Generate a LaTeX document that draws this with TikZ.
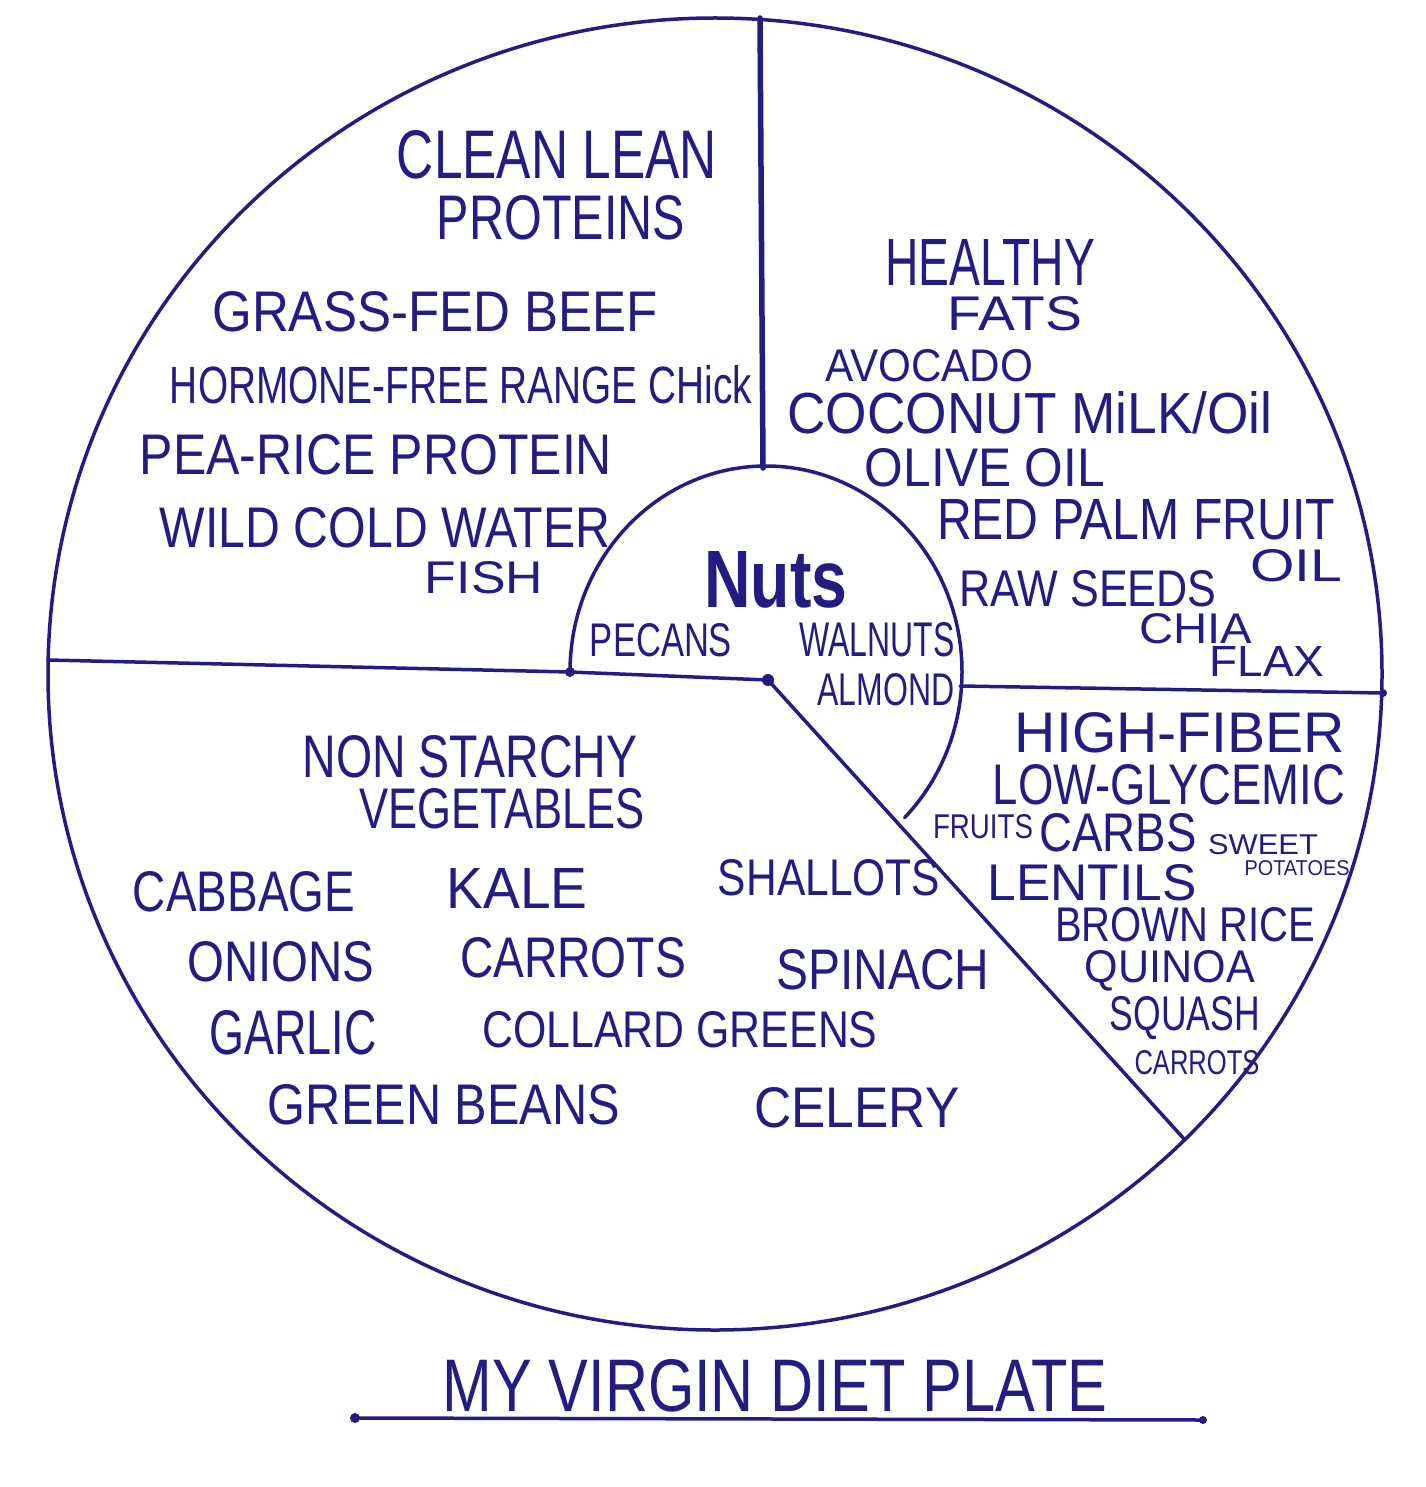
\documentclass[tikz,border=0pt]{standalone}
\usepackage{fontspec}
\setmainfont{Liberation Sans}
\usepackage{graphicx}
\definecolor{plateink}{RGB}{36,28,130}
% hand-lettered word, squeezed to width x height (in px)
\newcommand{\hw}[3]{\resizebox{#1pt}{#2pt}{#3}}
\tikzset{
  ink/.style={inner sep=0pt,text=plateink},
  rim/.style={draw=plateink,line width=3.5pt,line cap=round},
}
\begin{document}
\begin{tikzpicture}[x=1pt,y=-1pt]
\fill[white] (0,0) rectangle (1425,1487);
\useasboundingbox (0,0) rectangle (1425,1487);
% plate and dividers
\coordinate (ctr) at (715,674);
\coordinate (top) at (760,18);
\coordinate (nutstop) at (763,468);
\coordinate (left) at (48,660);
\coordinate (nutsleft) at (570,672);
\coordinate (hub) at (768,680);
\coordinate (nutsright) at (960,686);
\coordinate (right) at (1383,693);
\coordinate (low) at (1185,1140);
\draw[rim] (ctr) ellipse [x radius=667, y radius=656];
\draw[rim,line width=5.5pt] (top) -- (nutstop);
\draw[rim] (left) -- (nutsleft) -- (hub) -- (low);
\draw[rim] (nutsright) -- (right);
\draw[rim] (nutsleft) arc [start angle=180, end angle=405, x radius=196, y radius=206];
\fill[plateink] (nutsleft) circle (5);
\fill[plateink] (hub) circle (6);
\fill[plateink] (right) circle (4);

% proteins
\node[ink] (clean) at (557,155) {\hw{320}{48}{CLEAN LEAN}};
\node[ink] (proteins) at (561,218) {\hw{248}{44}{PROTEINS}};
\node[ink] (beef) at (435,312) {\hw{445}{40}{GRASS-FED BEEF}};
\node[ink] (chick) at (461,385) {\hw{582}{38}{HORMONE-FREE RANGE CHick}};
\node[ink] (pea) at (376,455) {\hw{472}{40}{PEA-RICE PROTEIN}};
\node[ink] (wild) at (385,528) {\hw{450}{40}{WILD COLD WATER}};
\node[ink] (fish) at (484,578) {\hw{118}{32}{FISH}};

% fats
\node[ink] (healthy) at (990,262) {\hw{210}{46}{HEALTHY}};
\node[ink] (fats) at (1015,314) {\hw{134}{34}{FATS}};
\node[ink] (avocado) at (929,366) {\hw{208}{32}{AVOCADO}};
\node[ink] (coconut) at (1030,413) {\hw{485}{42}{COCONUT MiLK/Oil}};
\node[ink] (olive) at (985,468) {\hw{240}{38}{OLIVE OIL}};
\node[ink] (palm) at (1136,520) {\hw{398}{40}{RED PALM FRUIT}};
\node[ink] (palmoil) at (1296,566) {\hw{92}{32}{OIL}};
\node[ink] (seeds) at (1088,589) {\hw{257}{36}{RAW SEEDS}};
\node[ink] (chia) at (1196,629) {\hw{113}{30}{CHIA}};
\node[ink] (flax) at (1267,661) {\hw{115}{30}{FLAX}};

% nuts
\node[ink] (nuts) at (776,580) {\hw{143}{56}{\bfseries Nuts}};
\node[ink] (pecans) at (661,640) {\hw{142}{33}{PECANS}};
\node[ink] (walnuts) at (877,640) {\hw{155}{34}{WALNUTS}};
\node[ink] (almond) at (886,690) {\hw{137}{32}{ALMOND}};

% carbs
\node[ink] (fiber) at (1180,733) {\hw{330}{40}{HIGH-FIBER}};
\node[ink] (glycemic) at (1169,785) {\hw{352}{40}{LOW-GLYCEMIC}};
\node[ink] (fruits) at (983,827) {\hw{100}{24}{FRUITS}};
\node[ink] (carbs) at (1118,833) {\hw{157}{38}{CARBS}};
\node[ink] (sweet) at (1263,845) {\hw{110}{20}{SWEET}};
\node[ink] (potatoes) at (1297,868) {\hw{105}{15}{POTATOES}};
\node[ink] (lentils) at (1092,883) {\hw{209}{36}{LENTILS}};
\node[ink] (rice) at (1185,925) {\hw{260}{34}{BROWN RICE}};
\node[ink] (quinoa) at (1170,971) {\hw{170}{32}{QUINOA}};
\node[ink] (squash) at (1185,1018) {\hw{150}{34}{SQUASH}};
\node[ink] (carrotsb) at (1197,1063) {\hw{125}{24}{CARROTS}};

% vegetables
\node[ink] (nonstarchy) at (470,757) {\hw{335}{42}{NON STARCHY}};
\node[ink] (veg) at (502,809) {\hw{285}{40}{VEGETABLES}};
\node[ink] (cabbage) at (244,892) {\hw{222}{40}{CABBAGE}};
\node[ink] (kale) at (517,888) {\hw{141}{40}{KALE}};
\node[ink] (shallots) at (829,878) {\hw{222}{36}{SHALLOTS}};
\node[ink] (onions) at (281,962) {\hw{187}{40}{ONIONS}};
\node[ink] (carrots) at (573,958) {\hw{226}{40}{CARROTS}};
\node[ink] (spinach) at (883,970) {\hw{213}{40}{SPINACH}};
\node[ink] (garlic) at (293,1033) {\hw{167}{44}{GARLIC}};
\node[ink] (collard) at (680,1030) {\hw{395}{36}{COLLARD GREENS}};
\node[ink] (beans) at (444,1105) {\hw{352}{40}{GREEN BEANS}};
\node[ink] (celery) at (857,1108) {\hw{205}{40}{CELERY}};

% title
\coordinate (ulstart) at (355,1418);
\coordinate (ulend) at (1203,1420);
\node[ink] (title) at (775,1386) {\hw{664}{52}{MY VIRGIN DIET PLATE}};
\draw[rim] (ulstart) -- (ulend);
\fill[plateink] (ulstart) circle (5);
\fill[plateink] (ulend) circle (4);
\end{tikzpicture}
\end{document}
